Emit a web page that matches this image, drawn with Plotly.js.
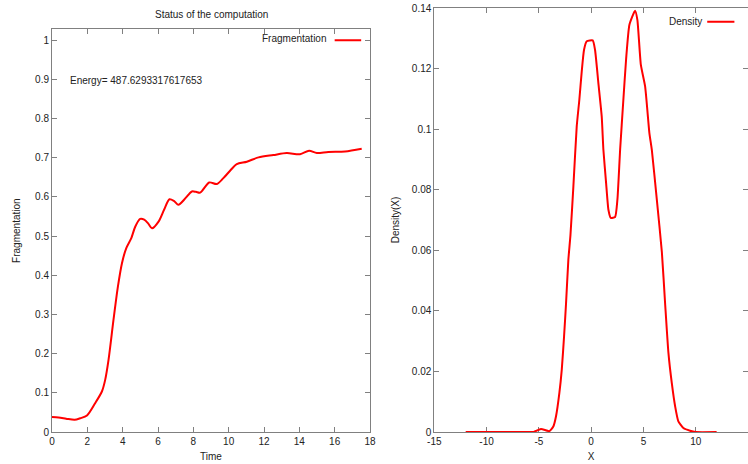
<!DOCTYPE html>
<html>
<head>
<meta charset="utf-8">
<script src="https://cdn.plot.ly/plotly-3.0.1.min.js"></script>
<style>html,body{margin:0;padding:0;background:#fff;}#chart{width:748px;height:464px;}</style>
</head>
<body>
<div id="chart"></div>
<script>
// Left panel: fragmentation vs time
const time = [0, 0.37, 0.8, 1.28, 1.6, 1.98, 2.45, 2.83, 3.01, 3.2, 3.48, 3.73, 3.96, 4.2, 4.49, 4.71, 4.99, 5.22, 5.45, 5.66, 6.03, 6.35, 6.65, 6.9, 7.16, 7.5, 7.92, 8.15, 8.39, 8.9, 9.33, 9.7, 10.08, 10.46, 11.03, 11.69, 12.53, 13.29, 14.04, 14.55, 14.99, 15.64, 16.59, 17.53];
const fragmentation = [0.038, 0.037, 0.034, 0.031, 0.035, 0.042, 0.074, 0.104, 0.133, 0.184, 0.286, 0.371, 0.431, 0.469, 0.495, 0.524, 0.544, 0.542, 0.532, 0.52, 0.537, 0.568, 0.594, 0.59, 0.58, 0.594, 0.614, 0.613, 0.611, 0.637, 0.633, 0.648, 0.667, 0.684, 0.69, 0.701, 0.707, 0.712, 0.709, 0.718, 0.712, 0.715, 0.716, 0.723];

// Right panel: density vs X
const xs = [-12, -6, -5.5, -4.8, -4.0, -3.62, -3.36, -3.04, -2.81, -2.59, -2.4, -2.18, -1.98, -1.7, -1.38, -1.13, -0.9, -0.68, -0.42, 0.15, 0.37, 0.69, 1.01, 1.17, 1.43, 1.65, 1.88, 2.29, 2.51, 2.77, 3.08, 3.34, 3.66, 4.2, 4.42, 4.75, 5.16, 5.57, 5.8, 6.28, 6.76, 7.07, 7.39, 7.71, 8.03, 8.34, 8.82, 9.46, 10, 12];
const density = [0, 0, 0, 0.001, 0.0003, 0.0018, 0.0052, 0.0129, 0.0206, 0.0316, 0.0426, 0.0569, 0.065, 0.0811, 0.1009, 0.1097, 0.1191, 0.1262, 0.129, 0.1293, 0.1262, 0.1152, 0.1042, 0.0932, 0.0822, 0.0734, 0.0707, 0.071, 0.0767, 0.0932, 0.1097, 0.123, 0.1345, 0.1391, 0.1361, 0.1213, 0.1141, 0.0987, 0.0932, 0.0767, 0.0595, 0.0426, 0.0261, 0.0162, 0.0085, 0.0035, 0.0013, 0.0004, 0, 0];

const leftXTicks = [0, 2, 4, 6, 8, 10, 12, 14, 16, 18];
const leftYTicks = [0, 0.1, 0.2, 0.3, 0.4, 0.5, 0.6, 0.7, 0.8, 0.9, 1];
const rightXTicks = [-15, -10, -5, 0, 5, 10, 15];
const rightYTicks = [0, 0.02, 0.04, 0.06, 0.08, 0.1, 0.12, 0.14];

const titleText = "Status of the computation";
const energyText = "Energy= 487.6293317617653";

const FONT = "Liberation Sans, Arial, Helvetica, sans-serif";
const RED = "#ff0000";
const AX = "#808080";

function axisStyle(extra) {
  return Object.assign({
    showline: true, linecolor: AX, linewidth: 1, mirror: "ticks",
    ticks: "inside", ticklen: 5, tickcolor: AX, tickwidth: 1,
    showgrid: false, zeroline: false, layer: "below traces",
    tickfont: {family: FONT, size: 10, color: "#222"}
  }, extra);
}

const traces = [
  {x: time, y: fragmentation, type: "scatter", mode: "lines", xaxis: "x", yaxis: "y",
   line: {color: RED, width: 2, shape: "spline", smoothing: 0.8}, name: "Fragmentation", showlegend: false},
  {x: xs, y: density, type: "scatter", mode: "lines", xaxis: "x2", yaxis: "y2",
   line: {color: RED, width: 2, shape: "spline", smoothing: 0.5}, name: "Density", showlegend: false}
];

const layout = {
  width: 748, height: 464,
  margin: {l: 52, r: 0, t: 8, b: 32, pad: 0},
  paper_bgcolor: "#fff", plot_bgcolor: "#fff",
  font: {family: FONT, size: 10, color: "#222"},
  xaxis: axisStyle({domain: [0, 0.4569], range: [0, 18], tickvals: leftXTicks, anchor: "y",
    ticktext: leftXTicks.map(String),
    title: {text: "Time", font: {family: FONT, size: 10, color: "#222"}, standoff: 6}}),
  yaxis: axisStyle({domain: [0, 0.9498], range: [0, 1.028], tickvals: leftYTicks, anchor: "x",
    ticktext: leftYTicks.map(String),
    title: {text: "Fragmentation", font: {family: FONT, size: 10, color: "#222"}, standoff: 12}}),
  xaxis2: axisStyle({domain: [0.5493, 1], range: [-15, 15], tickvals: rightXTicks, anchor: "y2",
    ticktext: rightXTicks.map(String),
    title: {text: "X", font: {family: FONT, size: 10, color: "#222"}, standoff: 6}}),
  yaxis2: axisStyle({domain: [0, 1], range: [0, 0.14], tickvals: rightYTicks, anchor: "x2",
    ticktext: rightYTicks.map(String),
    title: {text: "Density(X)", font: {family: FONT, size: 10, color: "#222"}, standoff: 10}}),
  annotations: [
    {text: titleText, xref: "x domain", yref: "paper", x: 0.5, y: 1, yanchor: "bottom", xanchor: "center",
     yshift: -14, showarrow: false, font: {family: FONT, size: 10, color: "#222"}},
    {text: energyText, xref: "x", yref: "y", x: 0.88, y: 0.897, xanchor: "left", yanchor: "middle",
     showarrow: false, font: {family: FONT, size: 10, color: "#222"}},
    {text: "Fragmentation", xref: "x", yref: "y", x: 15.6, y: 1.005, xanchor: "right", yanchor: "middle",
     showarrow: false, font: {family: FONT, size: 10, color: "#222"}},
    {text: "Density", xref: "x2", yref: "y2", x: 10.8, y: 0.1355, xanchor: "right", yanchor: "middle",
     showarrow: false, font: {family: FONT, size: 10, color: "#222"}}
  ],
  shapes: [
    {type: "line", xref: "x", yref: "y", x0: 16.0, x1: 17.5, y0: 1.0, y1: 1.0, line: {color: RED, width: 2}},
    {type: "line", xref: "x2", yref: "y2", x0: 11.1, x1: 13.7, y0: 0.1355, y1: 0.1355, line: {color: RED, width: 2}}
  ]
};

Plotly.newPlot("chart", traces, layout, {staticPlot: true, displayModeBar: false});
</script>
</body>
</html>
